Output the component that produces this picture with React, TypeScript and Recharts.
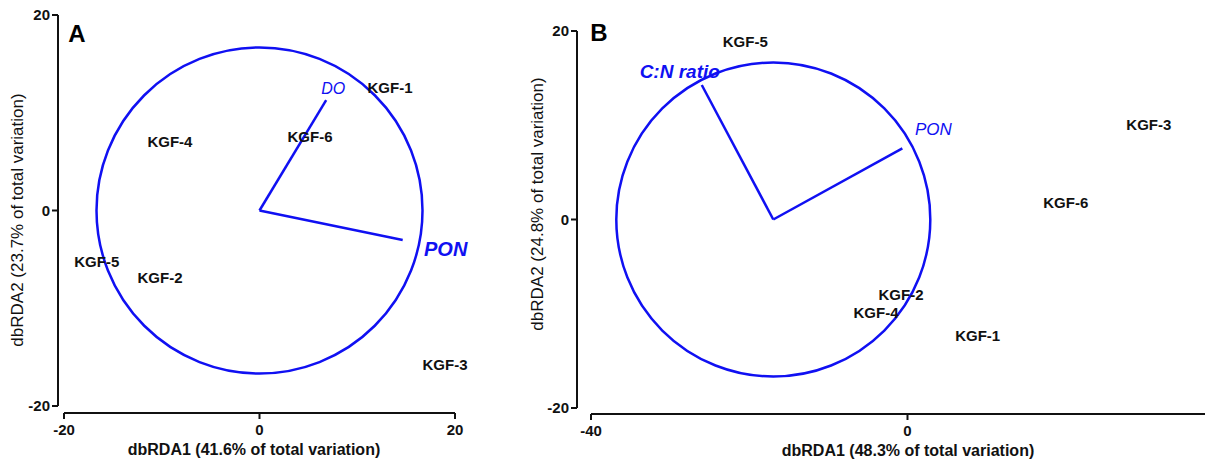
import React from 'react';
import { ScatterChart, Scatter, XAxis, YAxis, ReferenceLine, ReferenceDot } from 'recharts';

// ---------- Panel A data ----------
const sitesA = [
  { name: 'KGF-1', x: 13.35, y: 12.56 },
  { name: 'KGF-2', x: -10.18, y: -6.84 },
  { name: 'KGF-3', x: 18.98, y: -15.8 },
  { name: 'KGF-4', x: -9.16, y: 7.04 },
  { name: 'KGF-5', x: -16.65, y: -5.24 },
  { name: 'KGF-6', x: 5.17, y: 7.55 },
];
const vectorsA = [
  { name: 'DO', x: 6.82, y: 11.3 },
  { name: 'PON', x: 14.65, y: -3.02 },
];
const originA = { x: 0, y: 0 };
const xTicksA = [-20, 0, 20];
const yTicksA = [-20, 0, 20];
const xTitleA = 'dbRDA1 (41.6% of total variation)';
const yTitleA = 'dbRDA2 (23.7% of total variation)';

// ---------- Panel B data ----------
const sitesB = [
  { name: 'KGF-1', x: 8.87, y: -12.36 },
  { name: 'KGF-2', x: -0.82, y: -8.0 },
  { name: 'KGF-3', x: 30.5, y: 10.13 },
  { name: 'KGF-4', x: -3.98, y: -9.89 },
  { name: 'KGF-5', x: -20.5, y: 18.86 },
  { name: 'KGF-6', x: 20.0, y: 1.78 },
];
const vectorsB = [
  { name: 'C:N ratio', x: -26.0, y: 14.27 },
  { name: 'PON', x: -0.65, y: 7.55 },
];
const originB = { x: -16.96, y: 0 };
const xTicksB = [-40, 0];
const yTicksB = [-20, 0, 20];
const xTitleB = 'dbRDA1 (48.3% of total variation)';
const yTitleB = 'dbRDA2 (24.8% of total variation)';

// ---------- styles ----------
const FONT = '"Liberation Sans", Arial, Helvetica, sans-serif';
const BLUE = '#1010f2';
const INK = '#111';

type LabelStyle = { dx: number; dy: number; size: number; weight: string };
const vecStyleA: Record<string, LabelStyle> = {
  DO: { dx: 7, dy: -12, size: 16, weight: 'normal' },
  PON: { dx: 43, dy: 9, size: 20, weight: 'bold' },
};
const vecStyleB: Record<string, LabelStyle> = {
  'C:N ratio': { dx: -22, dy: -14, size: 19, weight: 'bold' },
  PON: { dx: 31, dy: -19, size: 17, weight: 'normal' },
};

const SiteLabel = (props: any) => {
  const { cx, cy, payload } = props;
  return (
    <text
      x={cx}
      y={cy}
      textAnchor="middle"
      dominantBaseline="central"
      fontFamily={FONT}
      fontWeight="bold"
      fontSize={15}
      fill={INK}
    >
      {payload.name}
    </text>
  );
};

const makeVectorLabel = (styles: Record<string, LabelStyle>) => (props: any) => {
  const { cx, cy, payload } = props;
  const s = styles[payload.name];
  return (
    <text
      x={cx + s.dx}
      y={cy + s.dy}
      textAnchor="middle"
      dominantBaseline="central"
      fontFamily={FONT}
      fontStyle="italic"
      fontWeight={s.weight}
      fontSize={s.size}
      fill={BLUE}
    >
      {payload.name}
    </text>
  );
};

const tickStyle = { fontFamily: FONT, fontWeight: 'bold', fontSize: 15, fill: INK };
const axisStroke = { stroke: INK, strokeWidth: 2 };

const makeYTitle = (title: string, letter: string, titleX: number, titleY: number, letterX: number, letterY: number) =>
  () => (
    <g>
      <text
        x={titleX}
        y={titleY}
        transform={`rotate(-90, ${titleX}, ${titleY})`}
        textAnchor="middle"
        fontFamily={FONT}
        fontSize={17}
        fill={INK}
      >
        {title}
      </text>
      <text
        x={letterX}
        y={letterY}
        textAnchor="middle"
        dominantBaseline="central"
        fontFamily={FONT}
        fontWeight="bold"
        fontSize={24}
        fill="#000"
      >
        {letter}
      </text>
    </g>
  );

const makeXTitle = (title: string, x: number, y: number) => () => (
  <text x={x} y={y} textAnchor="middle" fontFamily={FONT} fontWeight="bold" fontSize={16} fill={INK}>
    {title}
  </text>
);

const PanelA = () => (
  <ScatterChart width={520} height={465} margin={{ top: 15, right: 65, bottom: 0, left: 0 }}>
    <XAxis
      type="number"
      dataKey="x"
      domain={[-20, 20]}
      ticks={xTicksA}
      padding={{ left: 6, right: 0 }}
      height={52}
      tickSize={6}
      tickMargin={5}
      tick={tickStyle}
      tickLine={axisStroke}
      axisLine={{ ...axisStroke, strokeDasharray: '0 6 1000' }}
      label={makeXTitle(xTitleA, 254, 455)}
    />
    <YAxis
      type="number"
      dataKey="y"
      domain={[-20, 20]}
      ticks={yTicksA}
      padding={{ top: 0, bottom: 7 }}
      width={58}
      tickSize={6}
      tickMargin={2}
      tick={tickStyle}
      tickLine={axisStroke}
      axisLine={{ ...axisStroke, strokeDasharray: '391 100' }}
      label={makeYTitle(yTitleA, 'A', 23, 220, 77, 33)}
    />
    <ReferenceDot
      x={originA.x}
      y={originA.y}
      r={163}
      fill="none"
      stroke={BLUE}
      strokeWidth={2.5}
    />
    {vectorsA.map((v) => (
      <ReferenceLine
        key={v.name}
        segment={[{ x: originA.x, y: originA.y }, { x: v.x, y: v.y }]}
        stroke={BLUE}
        strokeWidth={2.5}
      />
    ))}
    <Scatter data={sitesA} shape={SiteLabel} isAnimationActive={false} />
    <Scatter data={vectorsA} shape={makeVectorLabel(vecStyleA)} isAnimationActive={false} />
  </ScatterChart>
);

const PanelB = () => (
  <ScatterChart width={687} height={465} margin={{ top: 31, right: 2, bottom: 0, left: 0 }}>
    <XAxis
      type="number"
      dataKey="x"
      domain={[-40, 37.6]}
      ticks={xTicksB}
      padding={{ left: 14, right: 0 }}
      height={51}
      tickSize={6}
      tickMargin={5}
      tick={tickStyle}
      tickLine={axisStroke}
      axisLine={{ ...axisStroke, strokeDasharray: '0 14 1000' }}
      label={makeXTitle(xTitleB, 388, 456)}
    />
    <YAxis
      type="number"
      dataKey="y"
      domain={[-20, 20]}
      ticks={yTicksB}
      padding={{ top: 0, bottom: 6 }}
      width={57}
      tickSize={6}
      tickMargin={2}
      tick={tickStyle}
      tickLine={axisStroke}
      axisLine={{ ...axisStroke, strokeDasharray: '377 100' }}
      label={makeYTitle(yTitleB, 'B', 23, 204, 79, 32)}
    />
    <ReferenceDot
      x={originB.x}
      y={originB.y}
      r={157}
      fill="none"
      stroke={BLUE}
      strokeWidth={2.5}
    />
    {vectorsB.map((v) => (
      <ReferenceLine
        key={v.name}
        segment={[{ x: originB.x, y: originB.y }, { x: v.x, y: v.y }]}
        stroke={BLUE}
        strokeWidth={2.5}
      />
    ))}
    <Scatter data={sitesB} shape={SiteLabel} isAnimationActive={false} />
    <Scatter data={vectorsB} shape={makeVectorLabel(vecStyleB)} isAnimationActive={false} />
  </ScatterChart>
);

export default function App() {
  return (
    <div
      style={{
        position: 'absolute',
        left: 0,
        top: 0,
        width: 1207,
        height: 465,
        background: '#fff',
        overflow: 'hidden',
      }}
    >
      <div style={{ position: 'absolute', left: 0, top: 0 }}>
        <PanelA />
      </div>
      <div style={{ position: 'absolute', left: 520, top: 0 }}>
        <PanelB />
      </div>
    </div>
  );
}
